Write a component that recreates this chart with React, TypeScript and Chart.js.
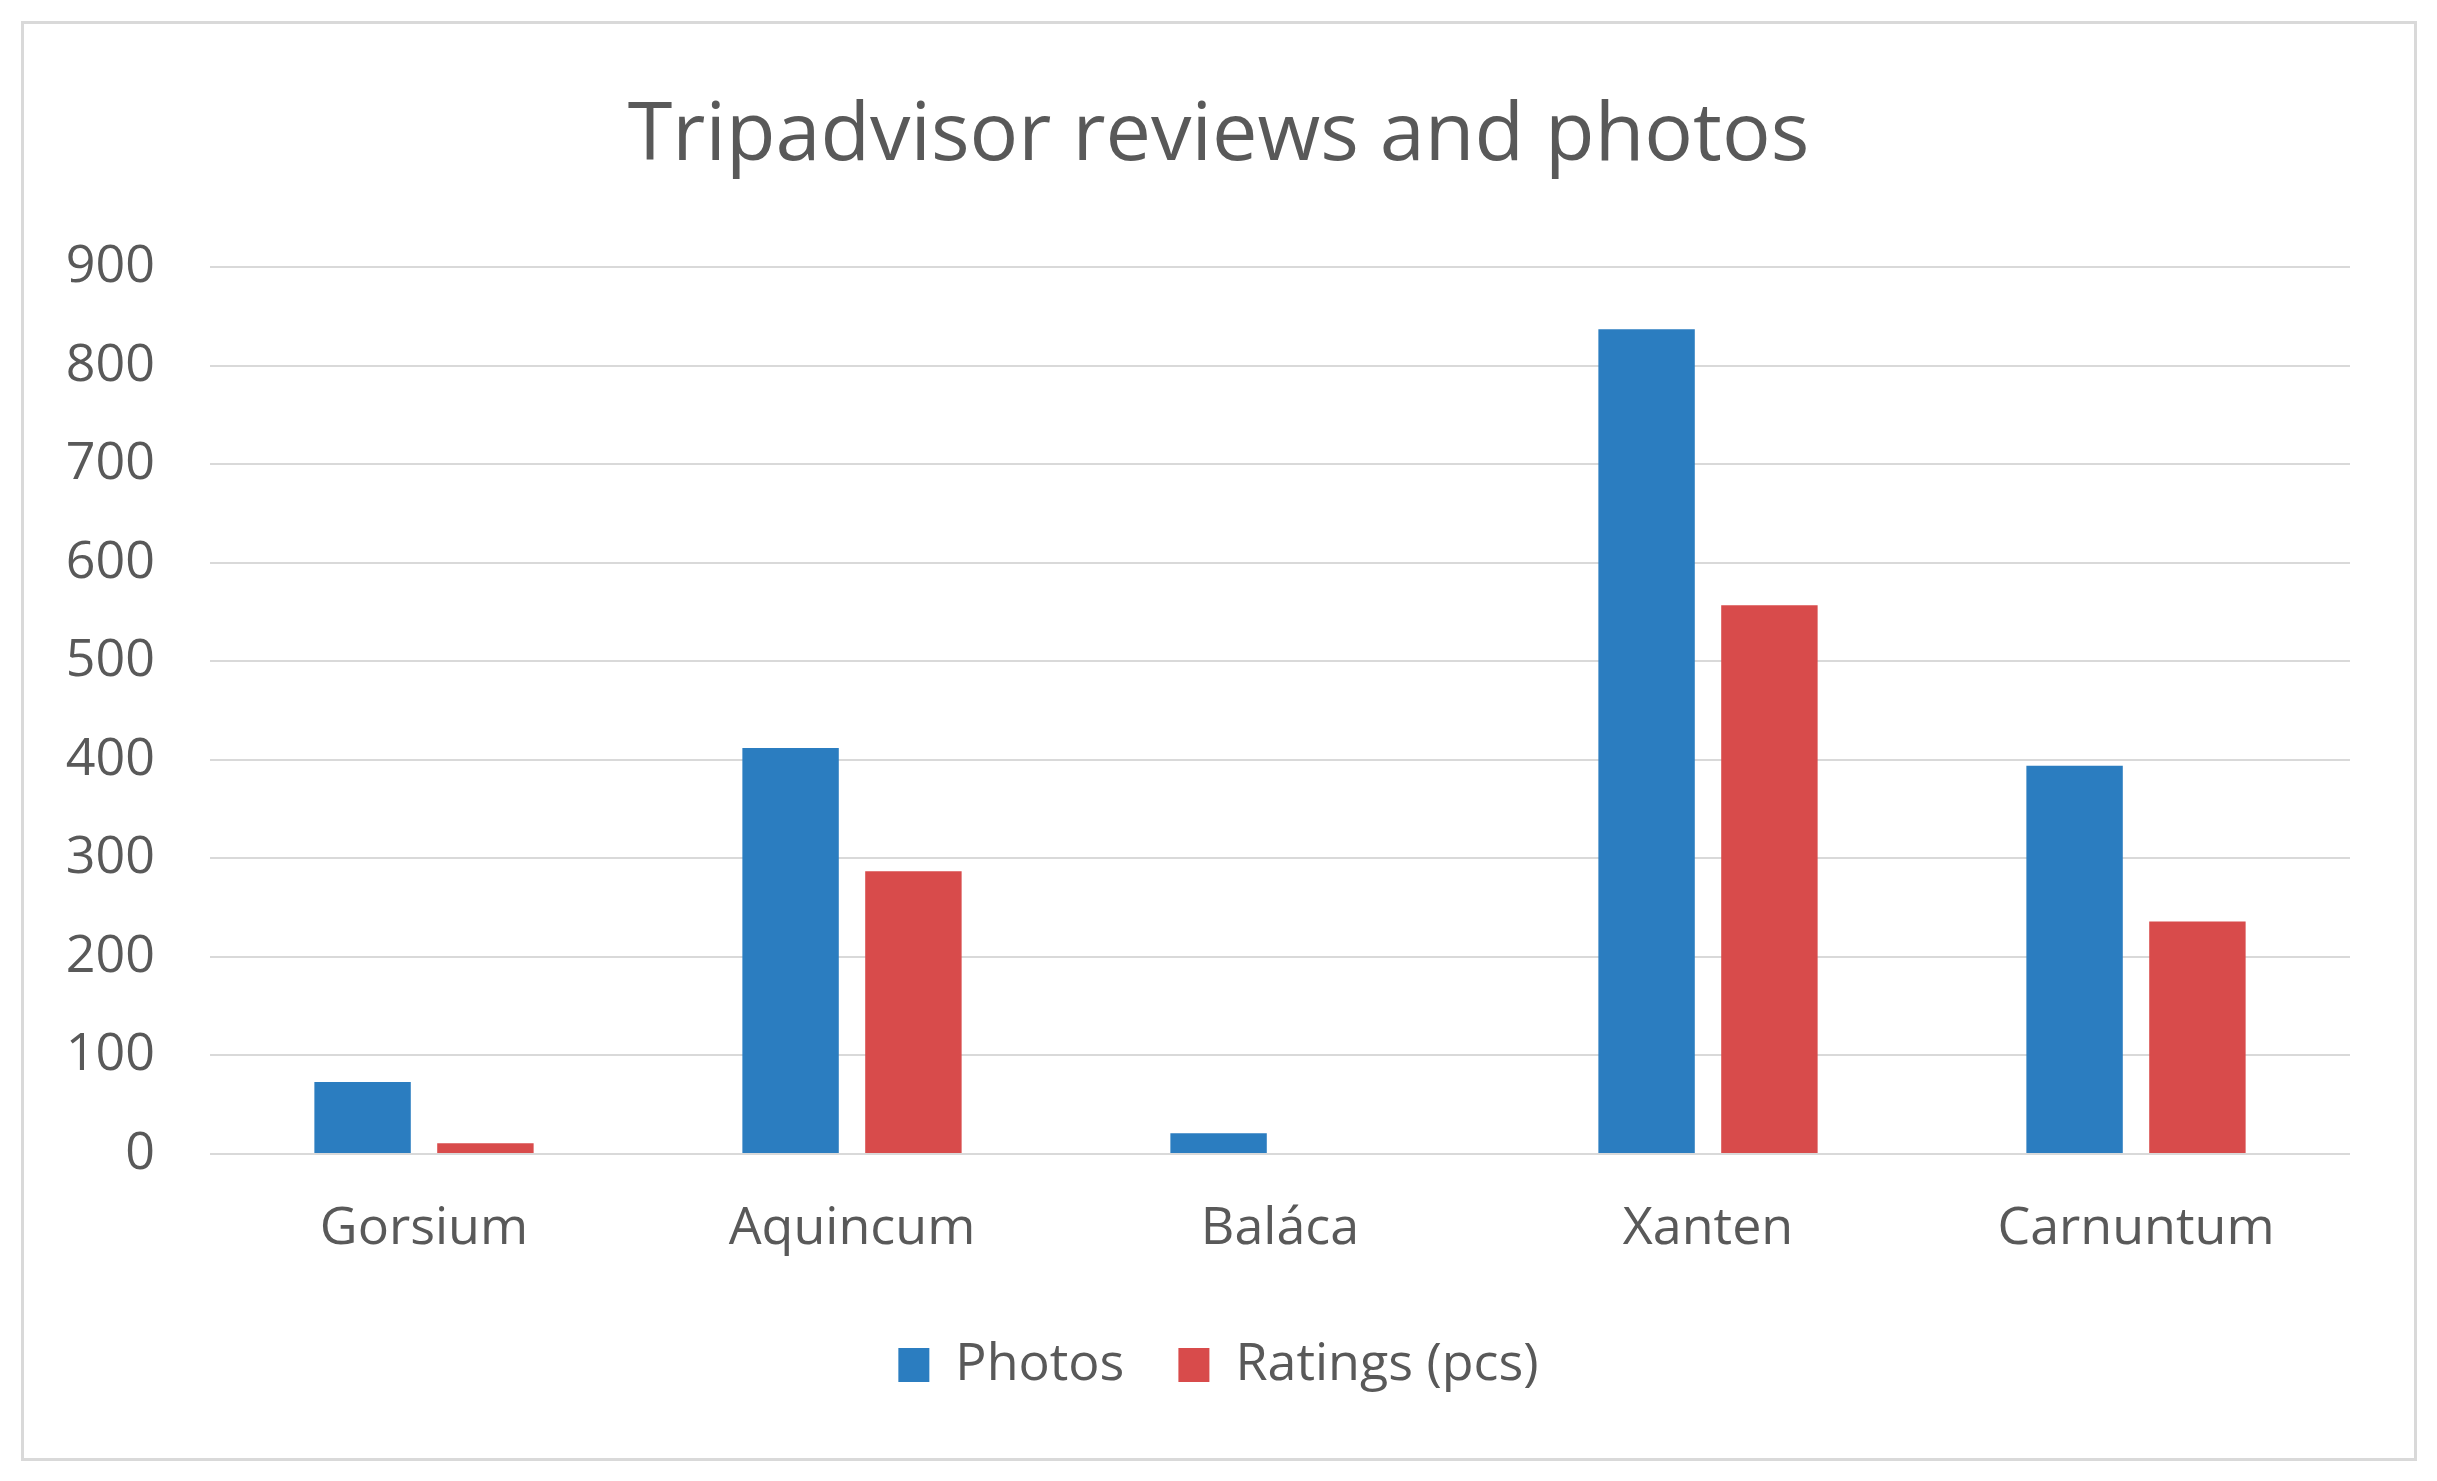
import React, { useEffect, useRef } from "react";
import { Chart, registerables } from "chart.js";

Chart.register(...registerables);

const categories = ["Gorsium", "Aquincum", "Baláca", "Xanten", "Carnuntum"];
const photos = [73, 412, 21, 837, 394];
const ratings = [11, 287, 0, 557, 236];
const seriesNames = ["Photos", "Ratings (pcs)"];
const chartTitle = "Tripadvisor reviews and photos";

const FONT = '"Open Sans", "DejaVu Sans", sans-serif';
const TEXT = "#595959";
const GRID = "#d9d9d9";

export default function App() {
  const ref = useRef<HTMLCanvasElement | null>(null);

  useEffect(() => {
    let chart: Chart | null = null;
    let cancelled = false;
    const make = () => {
      if (cancelled || !ref.current) return;
      chart = new Chart(ref.current, {
        type: "bar",
        data: {
          labels: categories,
          datasets: [
            {
              label: seriesNames[0],
              data: photos,
              backgroundColor: "#2b7dc0",
              categoryPercentage: 0.574,
              barPercentage: 0.785,
            },
            {
              label: seriesNames[1],
              data: ratings,
              backgroundColor: "#d84b4b",
              categoryPercentage: 0.574,
              barPercentage: 0.785,
            },
          ],
        },
        options: {
          animation: false,
          responsive: false,
          maintainAspectRatio: false,
          layout: { padding: { top: 0, left: 0, right: 0, bottom: 80 } },
          plugins: {
            tooltip: { enabled: false },
            title: {
              display: true,
              text: chartTitle,
              color: TEXT,
              font: { family: FONT, size: 81, weight: "normal", lineHeight: 1.2 },
              padding: { top: 88, bottom: 82 },
            },
            legend: {
              display: true,
              position: "bottom",
              labels: {
                color: TEXT,
                font: { family: FONT, size: 52, lineHeight: 1.2 },
                boxWidth: 31,
                boxHeight: 34,
                padding: 54,
              },
            },
          },
          scales: {
            x: {
              grid: { display: false, drawTicks: false },
              border: { display: false },
              ticks: {
                color: TEXT,
                font: { family: FONT, size: 52, lineHeight: 1.2 },
                padding: 44,
              },
              afterFit: (s: any) => {
                s.height = 131;
              },
            },
            y: {
              min: 0,
              max: 900,
              grid: { color: GRID, lineWidth: 2, drawTicks: false },
              border: { display: false },
              ticks: {
                stepSize: 100,
                color: TEXT,
                font: { family: FONT, size: 52, lineHeight: 1.2 },
                padding: 55,
              },
              afterFit: (s: any) => {
                s.width = 210;
              },
            },
            yRightSpace: {
              type: "linear",
              position: "right",
              display: true,
              grid: { display: false, drawTicks: false },
              border: { display: false },
              ticks: { display: false },
              afterFit: (s: any) => {
                s.width = 87;
              },
            },
          },
        },
      });
    };
    if ((document as any).fonts && (document as any).fonts.load) {
      (document as any).fonts
        .load('52px "Open Sans"')
        .then(make, make);
    } else {
      make();
    }
    return () => {
      cancelled = true;
      if (chart) chart.destroy();
    };
  }, []);

  return (
    <div style={{ position: "fixed", left: 0, top: 0, width: 2437, height: 1481, background: "#fff" }}>
      <div
        style={{
          position: "absolute",
          left: 21,
          top: 21,
          width: 2396,
          height: 1440,
          boxSizing: "border-box",
          border: "3px solid #d9d9d9",
        }}
      />
      <canvas
        ref={ref}
        width={2437}
        height={1481}
        style={{ position: "absolute", left: 0, top: 0, width: 2437, height: 1481 }}
      />
    </div>
  );
}
